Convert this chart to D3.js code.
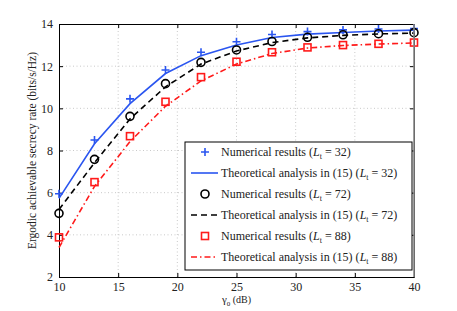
<!DOCTYPE html>
<html>
<head>
<meta charset="utf-8">
<script src="https://cdn.jsdelivr.net/npm/d3@7"></script>
<style>
  body { margin: 0; background: #fff; }
  svg { font-family: "Liberation Serif", "DejaVu Serif", serif; }
</style>
</head>
<body>
<svg id="chart" width="457" height="311"></svg>
<script>
// SNR points (dB)
const snr = [10, 13, 16, 19, 22, 25, 28, 31, 34, 37, 40];

// numerical results
const num32 = [5.95, 8.5, 10.45, 11.82, 12.66, 13.16, 13.5, 13.64, 13.72, 13.76, 13.78];
const num72 = [5.02, 7.58, 9.62, 11.17, 12.18, 12.77, 13.17, 13.37, 13.49, 13.54, 13.59];
const num88 = [3.88, 6.5, 8.68, 10.31, 11.48, 12.21, 12.66, 12.89, 13.0, 13.06, 13.12];

// theoretical analysis
const th32 = [5.73, 8.32, 10.22, 11.65, 12.5, 13.0, 13.36, 13.52, 13.6, 13.67, 13.71];
const th72 = [5.2, 7.42, 9.5, 11.02, 12.1, 12.72, 13.12, 13.34, 13.46, 13.53, 13.57];
const th88 = [3.4, 6.3, 8.42, 10.1, 11.3, 12.1, 12.6, 12.86, 12.98, 13.05, 13.1];

const xTicks = [10, 15, 20, 25, 30, 35, 40];
const yTicks = [2, 4, 6, 8, 10, 12, 14];

const legendRows = [
  { kind: "plus", text: "Numerical results (", L: "32" },
  { kind: "solid", text: "Theoretical analysis in (15) (", L: "32" },
  { kind: "circle", text: "Numerical results (", L: "72" },
  { kind: "dash", text: "Theoretical analysis in (15) (", L: "72" },
  { kind: "square", text: "Numerical results (", L: "88" },
  { kind: "dashdot", text: "Theoretical analysis in (15) (", L: "88" }
];

const blue = "#2a55f0", red = "#ff1a1a";

const svg = d3.select("#chart");
const margin = { top: 24, right: 43, bottom: 34, left: 59 };
const width = 457 - margin.left - margin.right;
const height = 311 - margin.top - margin.bottom;

const g = svg.append("g").attr("transform", `translate(${margin.left},${margin.top})`);

const x = d3.scaleLinear().domain([10, 40]).range([0, width]);
const y = d3.scaleLinear().domain([2, 14]).range([height, 0]);

// grid
g.append("g").selectAll("line").data(xTicks.slice(1, -1)).enter().append("line")
  .attr("x1", d => x(d)).attr("x2", d => x(d)).attr("y1", 0).attr("y2", height)
  .attr("stroke", "#bbb").attr("stroke-width", 0.8).attr("stroke-dasharray", "1,2.5");
g.append("g").selectAll("line").data(yTicks.slice(1, -1)).enter().append("line")
  .attr("y1", d => y(d)).attr("y2", d => y(d)).attr("x1", 0).attr("x2", width)
  .attr("stroke", "#bbb").attr("stroke-width", 0.8).attr("stroke-dasharray", "1,2.5");

// axes with inward ticks
const xAxis = g.append("g").attr("transform", `translate(0,${height})`)
  .call(d3.axisBottom(x).tickValues(xTicks).tickSizeInner(-4).tickSizeOuter(0).tickPadding(5));
const yAxis = g.append("g")
  .call(d3.axisLeft(y).tickValues(yTicks).tickSizeInner(-4).tickSizeOuter(0).tickPadding(6));
g.append("g").call(d3.axisTop(x).tickValues(xTicks).tickSizeInner(-4).tickSizeOuter(0).tickFormat(""));
g.append("g").attr("transform", `translate(${width},0)`)
  .call(d3.axisRight(y).tickValues(yTicks).tickSizeInner(-4).tickSizeOuter(0).tickFormat(""));
g.selectAll(".domain").attr("stroke", "#000");
[xAxis, yAxis].forEach(a => a.selectAll("text")
  .attr("font-family", "Liberation Serif").attr("font-size", 12).attr("fill", "#222"));

// curves
const line = d3.line().x(d => x(d[0])).y(d => y(d[1]));
function curve(vals, color, dash) {
  g.append("path").datum(snr.map((s, i) => [s, vals[i]]))
    .attr("d", line).attr("fill", "none").attr("stroke", color)
    .attr("stroke-width", 1.6).attr("stroke-dasharray", dash);
}
curve(th32, blue, null);
curve(th72, "#000", "6,4");
curve(th88, red, "6,3,1.5,3");

// markers
function plus(sel, cx, cy) {
  sel.append("path").attr("d", `M${cx - 4},${cy}H${cx + 4}M${cx},${cy - 4}V${cy + 4}`)
    .attr("stroke", blue).attr("stroke-width", 1.6);
}
function circ(sel, cx, cy) {
  sel.append("circle").attr("cx", cx).attr("cy", cy).attr("r", 4)
    .attr("fill", "none").attr("stroke", "#000").attr("stroke-width", 1.6);
}
function sq(sel, cx, cy) {
  sel.append("rect").attr("x", cx - 3.5).attr("y", cy - 3.5).attr("width", 7).attr("height", 7)
    .attr("fill", "none").attr("stroke", red).attr("stroke-width", 1.6);
}
snr.forEach((s, i) => {
  plus(g, x(s), y(num32[i]));
  circ(g, x(s), y(num72[i]));
  sq(g, x(s), y(num88[i]));
});

// right border grey
g.append("line").attr("x1", width).attr("x2", width).attr("y1", 0).attr("y2", height)
  .attr("stroke", "#888").attr("stroke-width", 1.6);

// legend
const lg = svg.append("g").attr("transform", "translate(185,142)");
lg.append("rect").attr("width", 227).attr("height", 128)
  .attr("fill", "#fff").attr("stroke", "#000").attr("stroke-width", 1);
legendRows.forEach((r, i) => {
  const cy = 10 + i * 21;
  if (r.kind === "plus") plus(lg, 20, cy);
  if (r.kind === "circle") circ(lg, 20, cy);
  if (r.kind === "square") sq(lg, 20, cy);
  if (r.kind === "solid" || r.kind === "dash" || r.kind === "dashdot") {
    lg.append("line").attr("x1", 6).attr("x2", 33).attr("y1", cy).attr("y2", cy)
      .attr("stroke", r.kind === "solid" ? blue : r.kind === "dash" ? "#000" : red)
      .attr("stroke-width", 1.6)
      .attr("stroke-dasharray", r.kind === "dash" ? "6,4" : r.kind === "dashdot" ? "6,3,1.5,3" : null);
  }
  const t = lg.append("text").attr("x", 36).attr("y", cy + 4)
    .attr("font-size", 12).attr("fill", "#222");
  t.append("tspan").text(r.text);
  t.append("tspan").attr("font-style", "italic").text("L");
  t.append("tspan").attr("font-size", 8).attr("dy", 3).text("t");
  t.append("tspan").attr("dy", -3).text(" = " + r.L + ")");
});

// axis labels
const xl = svg.append("text").attr("x", margin.left + width / 2).attr("y", 303)
  .attr("text-anchor", "middle").attr("font-size", 11).attr("fill", "#222");
xl.append("tspan").text("γ");
xl.append("tspan").attr("font-size", 7).attr("dy", 3).text("0");
xl.append("tspan").attr("dy", -3).attr("font-size", 10).text(" (dB)");

svg.append("text")
  .attr("transform", `translate(36,${margin.top + height / 2}) rotate(-90)`)
  .attr("text-anchor", "middle").attr("font-size", 11.5).attr("fill", "#222")
  .text("Ergodic achievable secrecy rate (bits/s/Hz)");
</script>
</body>
</html>
